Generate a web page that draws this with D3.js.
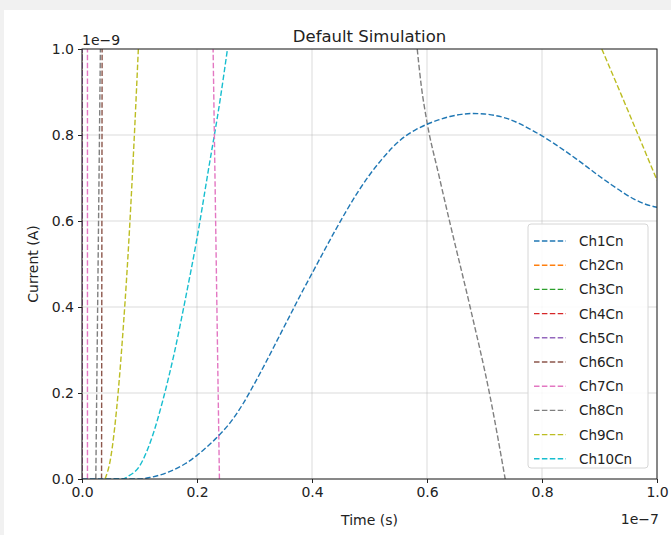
<!DOCTYPE html>
<html><head><meta charset="utf-8">
<script src="https://cdn.jsdelivr.net/npm/d3@7"></script>
<style>
html,body{margin:0;padding:0;background:#f1f1f1;}
svg{display:block;font-family:"DejaVu Sans",sans-serif;}
</style></head>
<body>
<script>
// ---- data (x in 1e-7 s, y in 1e-9 A) ----
const seriesNames = ["Ch1Cn","Ch2Cn","Ch3Cn","Ch4Cn","Ch5Cn","Ch6Cn","Ch7Cn","Ch8Cn","Ch9Cn","Ch10Cn"];
const seriesColors = ["#1f77b4","#ff7f0e","#2ca02c","#d62728","#9467bd","#8c564b","#e377c2","#7f7f7f","#bcbd22","#17becf"];
const xTicks = [0.0,0.2,0.4,0.6,0.8,1.0];
const yTicks = [0.0,0.2,0.4,0.6,0.8,1.0];

const ch1X = [0.0,0.10,0.12,0.15,0.18,0.20,0.22,0.24,0.26,0.28,0.30,0.32,0.34,0.36,0.38,0.40,0.42,0.44,0.46,0.48,0.50,0.52,0.54,0.56,0.58,0.60,0.62,0.64,0.66,0.68,0.70,0.72,0.74,0.76,0.78,0.80,0.82,0.84,0.86,0.88,0.90,0.92,0.94,0.96,0.98,1.0];
const ch1Y = [0.0,0.0,0.004,0.016,0.036,0.055,0.078,0.104,0.135,0.175,0.222,0.272,0.324,0.376,0.428,0.478,0.528,0.577,0.624,0.668,0.707,0.741,0.771,0.795,0.812,0.825,0.835,0.843,0.848,0.850,0.849,0.845,0.838,0.827,0.813,0.798,0.781,0.763,0.744,0.724,0.704,0.685,0.667,0.651,0.639,0.632];
const ch2X = [0.0,0.0005]; const ch2Y = [0.0,1.5];
const ch3X = [0.0,0.0005]; const ch3Y = [0.0,1.5];
const ch4X = [0.0,0.0005]; const ch4Y = [0.0,1.5];
const ch5X = [0.0,0.0005]; const ch5Y = [0.0,1.5];
const ch6X = [0.034,0.035]; const ch6Y = [0.0,1.0];
const ch7aX = [0.0095,0.0095]; const ch7aY = [0.0,1.0];
const ch7bX = [0.239,0.228]; const ch7bY = [0.0,1.0];
const ch8aX = [0.024,0.032]; const ch8aY = [0.0,1.0];
const ch8bX = [0.583,0.59,0.60,0.62,0.64,0.675,0.71,0.736]; const ch8bY = [1.0,0.915,0.83,0.71,0.595,0.40,0.19,0.0];
const ch9aX = [0.04,0.05,0.06,0.07,0.08,0.09,0.098]; const ch9aY = [0.0,0.05,0.16,0.32,0.52,0.77,1.0];
const ch9bX = [0.904,0.95,1.0]; const ch9bY = [1.0,0.855,0.695];
const ch10X = [0.055,0.07,0.08,0.10,0.12,0.14,0.16,0.18,0.20,0.22,0.24,0.253]; const ch10Y = [0.0,0.0,0.006,0.03,0.09,0.18,0.29,0.42,0.56,0.72,0.88,1.0];

const W = 671, H = 535;
const m = {left:82, right:657, top:49, bottom:479};

const svg = d3.select("body").append("svg").attr("width",W).attr("height",H);
svg.append("rect").attr("x",4).attr("y",10).attr("width",W-4).attr("height",H-10).attr("fill","#ffffff");

const x = d3.scaleLinear().domain([0,1]).range([m.left,m.right]);
const y = d3.scaleLinear().domain([0,1]).range([m.bottom,m.top]);

// grid
const grid = svg.append("g");
xTicks.forEach(t=>{ grid.append("line").attr("x1",x(t)).attr("x2",x(t)).attr("y1",m.top).attr("y2",m.bottom).attr("stroke","#b0b0b0").attr("stroke-opacity",0.6).attr("stroke-width",0.8); });
yTicks.forEach(t=>{ grid.append("line").attr("y1",y(t)).attr("y2",y(t)).attr("x1",m.left).attr("x2",m.right).attr("stroke","#b0b0b0").attr("stroke-opacity",0.6).attr("stroke-width",0.8); });

svg.append("clipPath").attr("id","clip").append("rect").attr("x",m.left).attr("y",m.top).attr("width",m.right-m.left).attr("height",m.bottom-m.top);

const line = d3.line().x(d=>x(d[0])).y(d=>y(d[1])).curve(d3.curveMonotoneX);
const lineS = d3.line().x(d=>x(d[0])).y(d=>y(d[1]));
const zip = (a,b)=>a.map((v,i)=>[v,b[i]]);
const paths = [
  [ch2X,ch2Y,1,0],[ch3X,ch3Y,2,0],[ch4X,ch4Y,3,0],[ch5X,ch5Y,4,0],
  [ch10X,ch10Y,9,1],[ch9aX,ch9aY,8,1],[ch9bX,ch9bY,8,1],
  [ch8aX,ch8aY,7,0],[ch8bX,ch8bY,7,1],[ch7aX,ch7aY,6,0],[ch7bX,ch7bY,6,0],
  [ch6X,ch6Y,5,0],[ch1X,ch1Y,0,1]
];
const pg = svg.append("g").attr("clip-path","url(#clip)");
paths.forEach(([xs,ys,ci,smooth])=>{
  pg.append("path").attr("d",(smooth?line:lineS)(zip(xs,ys))).attr("fill","none")
    .attr("stroke",seriesColors[ci]).attr("stroke-width",1.4).attr("stroke-dasharray","5.5,2.4");
});

// axes
const fmt = d3.format(".1f");
const xAxis = d3.axisBottom(x).tickValues(xTicks).tickFormat(fmt).tickSize(4).tickPadding(4);
const yAxis = d3.axisLeft(y).tickValues(yTicks).tickFormat(fmt).tickSize(4).tickPadding(4);
const gx = svg.append("g").attr("transform",`translate(0,${m.bottom})`).call(xAxis);
const gy = svg.append("g").attr("transform",`translate(${m.left},0)`).call(yAxis);
[gx,gy].forEach(g=>{
  g.select(".domain").remove();
  g.selectAll("text").attr("font-size",14).attr("fill","#222").attr("font-family","DejaVu Sans");
  g.selectAll("line").attr("stroke","#222").attr("stroke-width",1);
});
gy.selectAll("text").attr("dy","0.35em");
// frame
svg.append("rect").attr("x",m.left).attr("y",m.top).attr("width",m.right-m.left).attr("height",m.bottom-m.top)
  .attr("fill","none").attr("stroke","#222").attr("stroke-width",1);

// labels
svg.append("text").attr("x",(m.left+m.right)/2).attr("y",42).attr("text-anchor","middle").attr("font-size",16.5).attr("fill","#222").text("Default Simulation");
svg.append("text").attr("x",(m.left+m.right)/2).attr("y",525).attr("text-anchor","middle").attr("font-size",14).attr("fill","#222").text("Time (s)");
svg.append("text").attr("transform",`translate(38,${(m.top+m.bottom)/2}) rotate(-90)`).attr("text-anchor","middle").attr("font-size",14).attr("fill","#222").text("Current (A)");
svg.append("text").attr("x",m.left).attr("y",45).attr("font-size",14).attr("fill","#222").text("1e\u22129");
svg.append("text").attr("x",m.right+2).attr("y",524).attr("text-anchor","end").attr("font-size",14).attr("fill","#222").text("1e\u22127");

// legend
const lg = svg.append("g");
const lx = 528, ly = 224, lw = 120, lh = 244, rowH = 24.2;
lg.append("rect").attr("x",lx).attr("y",ly).attr("width",lw).attr("height",lh).attr("rx",3)
  .attr("fill","#ffffff").attr("fill-opacity",0.85).attr("stroke","#d6d6d6").attr("stroke-width",1);
seriesNames.forEach((n,i)=>{
  const yy = ly + 17 + i*rowH;
  lg.append("line").attr("x1",lx+6).attr("x2",lx+38).attr("y1",yy).attr("y2",yy)
    .attr("stroke",seriesColors[i]).attr("stroke-width",1.4).attr("stroke-dasharray","5.5,2.4");
  lg.append("text").attr("x",lx+51).attr("y",yy+5).attr("font-size",13.5).attr("fill","#222").text(n);
});
</script>
</body></html>
